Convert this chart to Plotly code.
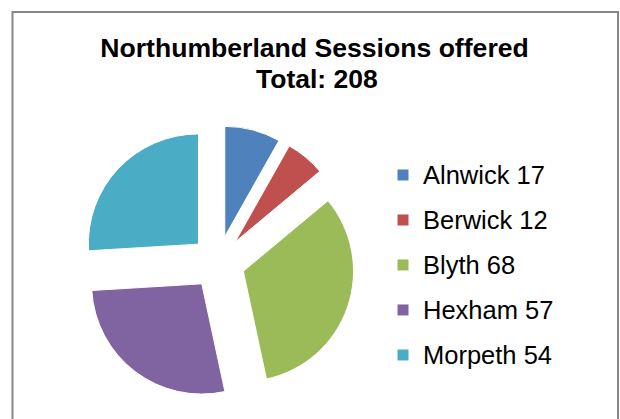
import plotly.graph_objects as go

# Data
towns = ["Alnwick", "Berwick", "Blyth", "Hexham", "Morpeth"]
sessions = [17, 12, 68, 57, 54]
colors = ["#4F81BD", "#C0504D", "#9BBB59", "#8064A2", "#4BACC6"]
title_main = "Northumberland Sessions offered"

total = sum(sessions)
legend_labels = [
    f'<span style="font-size:25.5px;baseline-shift:4px">{t} {v}</span>'
    for t, v in zip(towns, sessions)
]

W, H = 620, 419
FONT = "Liberation Sans, Arial, sans-serif"

fig = go.Figure(
    go.Pie(
        labels=legend_labels,
        values=sessions,
        sort=False,
        direction="clockwise",
        rotation=0,
        pull=[0.243] * len(sessions),
        marker=dict(colors=colors, line=dict(color="white", width=1)),
        textinfo="none",
        hoverinfo="label+value",
        domain=dict(x=[0.1306, 0.5726], y=[0.0465, 0.7005]),
    )
)

fig.update_layout(
    width=W,
    height=H,
    margin=dict(l=0, r=0, t=0, b=0),
    paper_bgcolor="white",
    plot_bgcolor="white",
    font=dict(family=FONT, color="black"),
    title=dict(
        text=f"<b>{title_main}</b>",
        x=314.5 / W,
        xanchor="center",
        xref="paper",
        yref="container",
        y=1 - 38.7 / H,
        yanchor="top",
        font=dict(size=26.6, color="black", family=FONT),
    ),
    annotations=[
        dict(
            text=f"<b>Total: {total}</b>",
            x=316.7 / W,
            xref="paper",
            xanchor="center",
            y=1 - 78.7 / H,
            yref="paper",
            yanchor="middle",
            showarrow=False,
            font=dict(size=26.5, color="black", family=FONT),
        )
    ],
    showlegend=True,
    legend=dict(
        x=383 / W,
        xanchor="left",
        y=1 - 147.5 / H,
        yanchor="top",
        font=dict(size=32.3, color="black", family=FONT),
        bgcolor="rgba(0,0,0,0)",
        borderwidth=0,
        itemclick=False,
    ),
    shapes=[
        dict(
            type="rect",
            xref="paper",
            yref="paper",
            x0=12.5 / W,
            x1=618 / W,
            y0=-0.2,
            y1=1 - 12 / H,
            line=dict(color="#878787", width=2),
            fillcolor="rgba(0,0,0,0)",
            layer="above",
        )
    ],
)

fig.write_html(
    "out.html",
    config={"displayModeBar": False},
    post_script="document.body.style.margin='0px';document.body.style.overflow='hidden';",
)
